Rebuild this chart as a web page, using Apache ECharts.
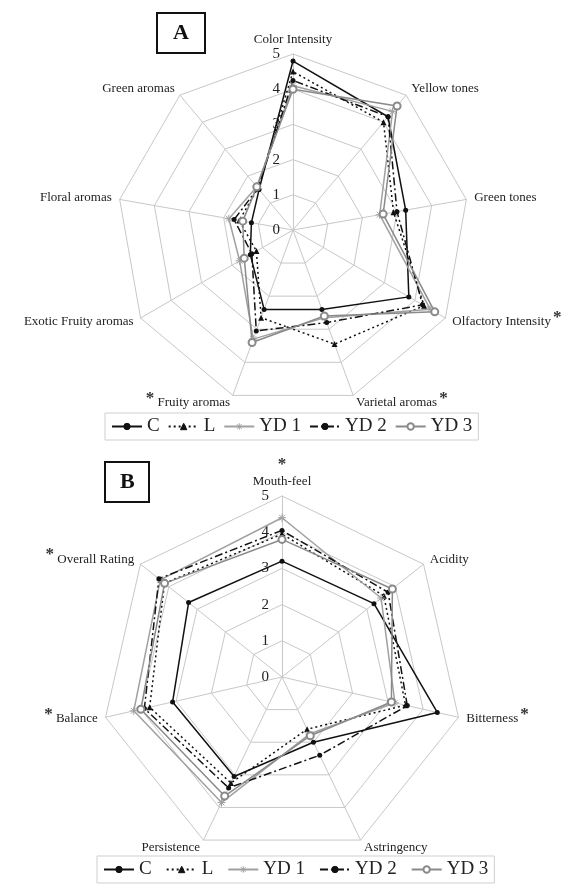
<!DOCTYPE html>
<html>
<head>
<meta charset="utf-8">
<script src="https://cdn.jsdelivr.net/npm/echarts@6/dist/echarts.min.js"></script>
<style>
  html, body { margin: 0; background: #fff; }
  #chart { width: 575px; height: 891px; }
</style>
</head>
<body>
<div id="chart"></div>
<script>
// panel A (appearance / aroma), clockwise from the top
const aromaAxes = ['Color Intensity', 'Yellow tones', 'Green tones', 'Olfactory Intensity', 'Varietal aromas',
  'Fruity aromas', 'Exotic Fruity aromas', 'Floral aromas', 'Green aromas'];
const aromaC   = [4.8, 4.2, 3.25, 3.8, 2.4, 2.4, 1.4, 1.2, 1.5];
const aromaL   = [4.5, 4.0, 2.9, 4.3, 3.45, 2.65, 1.2, 1.55, 1.55];
const aromaYD1 = [4.1, 4.4, 2.5, 4.5, 2.65, 3.3, 1.75, 1.85, 1.6];
const aromaYD2 = [4.25, 4.2, 3.0, 4.25, 2.8, 3.05, 1.35, 1.7, 1.55];
const aromaYD3 = [4.0, 4.6, 2.6, 4.65, 2.6, 3.4, 1.6, 1.45, 1.6];

// panel B (mouth), clockwise from the top
const tasteAxes = ['Mouth-feel', 'Acidity', 'Bitterness', 'Astringency', 'Persistence', 'Balance', 'Overall Rating'];
const tasteC   = [3.2, 3.25, 4.4, 2.0, 3.05, 3.1, 3.3];
const tasteL   = [3.95, 3.6, 3.5, 1.6, 3.25, 3.75, 4.15];
const tasteYD1 = [4.4, 3.5, 3.2, 1.75, 3.85, 4.2, 4.3];
const tasteYD2 = [4.05, 3.75, 3.55, 2.4, 3.4, 3.9, 4.35];
const tasteYD3 = [3.8, 3.9, 3.1, 1.8, 3.65, 4.0, 4.15];

const groups = ['C', 'L', 'YD 1', 'YD 2', 'YD 3'];
const scaleMax = 5;

// significance marks: where the asterisk sits next to the name
const starsA = { 'Olfactory Intensity': 'after', 'Varietal aromas': 'after', 'Fruity aromas': 'before' };
const starsB = { 'Mouth-feel': 'above', 'Bitterness': 'after', 'Balance': 'before', 'Overall Rating': 'before' };

const serif = 'Liberation Serif';
const asterisk = 'path://M0,-5L0,5M-5,0L5,0M-3.6,-3.6L3.6,3.6M-3.6,3.6L3.6,-3.6';

const looks = {
  'C':    { color: '#111', symbol: 'circle', size: 5, line: 'solid' },
  'L':    { color: '#111', symbol: 'triangle', size: 6, line: [2, 3] },
  'YD 1': { color: '#a0a0a0', symbol: asterisk, size: 8, line: 'solid' },
  'YD 2': { color: '#111', symbol: 'circle', size: 5, line: [8, 3, 2, 3] },
  'YD 3': { color: '#8a8a8a', symbol: 'emptyCircle', size: 7, line: 'solid' }
};

// echarts lays radar indicators out counter-clockwise
function ccw(arr) {
  return [arr[0]].concat(arr.slice(1).reverse());
}

function nameFormatter(stars) {
  return function (name) {
    const pos = stars[name];
    if (pos === 'after') return name + '{s|*}';
    if (pos === 'before') return '{s|*} ' + name;
    if (pos === 'above') return '{t|*}\n' + name;
    return name;
  };
}

function makeRadar(axes, stars, center, radius) {
  return {
    center: center,
    radius: radius,
    startAngle: 90,
    splitNumber: 5,
    shape: 'polygon',
    indicator: ccw(axes).map((name, i) => {
      const ind = { name: name, min: 0, max: scaleMax };
      if (i === 0) {
        ind.axisLabel = { show: true, color: '#222', fontFamily: serif, fontSize: 15, margin: 13 };
      }
      return ind;
    }),
    axisName: {
      color: '#222',
      fontFamily: serif,
      fontSize: 13,
      formatter: nameFormatter(stars),
      rich: {
        s: { fontSize: 17, fontWeight: 'bold', color: '#333', padding: [0, 0, 9, 2] },
        t: { fontSize: 17, fontWeight: 'bold', color: '#333', padding: [0, 0, 2, 0] }
      }
    },
    nameGap: 8,
    axisLabel: { show: false },
    axisTick: { show: false },
    axisLine: { lineStyle: { color: '#c8c8c8', width: 1 } },
    splitLine: { lineStyle: { color: '#c8c8c8', width: 1 } },
    splitArea: { show: false }
  };
}

const radarSeries = [];
function addPanel(radarIndex, valuesByGroup) {
  groups.forEach((g, i) => {
    const lk = looks[g];
    radarSeries.push({
      type: 'radar',
      name: g,
      radarIndex: radarIndex,
      symbol: lk.symbol,
      symbolSize: lk.size,
      lineStyle: { color: lk.color, width: 1.5, type: lk.line },
      itemStyle: { color: lk.color, borderColor: lk.color, borderWidth: lk.symbol === asterisk ? 1 : 0 },
      data: [{ name: g, value: ccw(valuesByGroup[i]) }]
    });
  });
}
addPanel(0, [aromaC, aromaL, aromaYD1, aromaYD2, aromaYD3]);
addPanel(1, [tasteC, tasteL, tasteYD1, tasteYD2, tasteYD3]);

// empty line series only to get line-style legend keys
const keySeries = groups.map(g => {
  const lk = looks[g];
  return {
    type: 'line',
    name: g,
    data: [],
    symbol: lk.symbol,
    lineStyle: { color: lk.color, width: 1.5, type: lk.line },
    itemStyle: { color: lk.color, borderColor: lk.color, borderWidth: 1 }
  };
});

const legendBase = {
  data: groups,
  orient: 'horizontal',
  itemWidth: 30,
  itemHeight: 8,
  borderColor: '#cfcfcf',
  borderWidth: 1,
  selectedMode: false,
  itemStyle: { borderWidth: 1 },
  textStyle: { fontFamily: serif, fontSize: 19, color: '#222' }
};

const chart = echarts.init(document.getElementById('chart'));
chart.setOption({
  animation: false,
  backgroundColor: '#fff',
  title: [
    { text: 'A', left: 157, top: 13, borderColor: '#111', borderWidth: 2, padding: [9, 16],
      textStyle: { fontFamily: serif, fontSize: 22, fontWeight: 'bold', color: '#111' } },
    { text: 'B', left: 105, top: 462, borderColor: '#111', borderWidth: 2, padding: [9, 15],
      textStyle: { fontFamily: serif, fontSize: 22, fontWeight: 'bold', color: '#111' } }
  ],
  legend: [
    Object.assign({}, legendBase, { left: 105, top: 413, itemGap: 8, padding: [4, 6] }),
    Object.assign({}, legendBase, { left: 97, top: 856, itemGap: 14, padding: [4, 6] })
  ],
  grid: { show: false, left: 0, top: 0, width: 1, height: 1 },
  xAxis: { type: 'category', show: false, data: [] },
  yAxis: { type: 'value', show: false },
  radar: [
    makeRadar(aromaAxes, starsA, [293, 230], 176),
    makeRadar(tasteAxes, starsB, [282, 677], 181)
  ],
  series: keySeries.concat(radarSeries)
});
</script>
</body>
</html>
